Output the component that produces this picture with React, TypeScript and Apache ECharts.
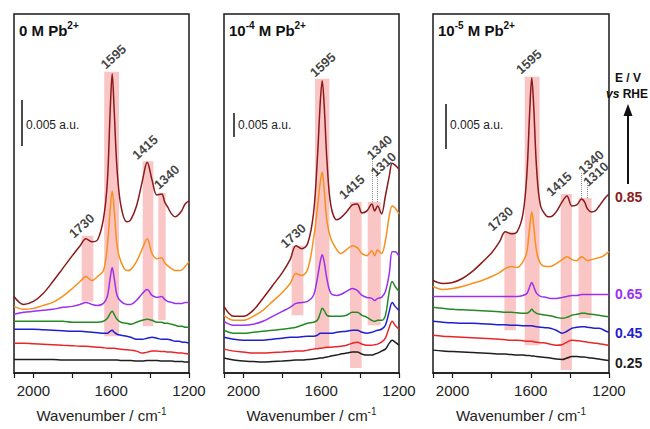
import React, { useEffect, useRef } from 'react';
import * as echarts from 'echarts';

const FONT = "'Liberation Sans', Arial, Helvetica, sans-serif";

// Wavenumber grid (cm^-1) shared by all spectra
const WAVENUMBERS = [2100, 2050, 2000, 1950, 1900, 1850, 1800, 1760, 1730, 1700, 1670, 1640, 1620, 1605, 1595, 1585, 1570, 1550, 1520, 1500, 1470, 1440, 1415, 1390, 1365, 1340, 1325, 1310, 1290, 1270, 1250, 1235, 1220, 1200];

const POTENTIALS = ['0.25', '0.35', '0.45', '0.55', '0.65', '0.75', '0.85'];
const COLORS = ['#1e1e1e', '#e8262a', '#1f1fd1', '#258a25', '#9b30f0', '#f7901e', '#8b1a1a'];

// Offset absorbance (arbitrary units, stacked) — 0 M Pb2+
const PB0_025 = [13.5, 13.5, 13.5, 13.5, 13.5, 13, 13, 13, 13, 13, 13, 13, 13, 13, 13, 13, 13, 12.5, 12.5, 12.5, 12, 12, 12.5, 12.5, 12.5, 12, 12, 12, 12, 11.5, 11.5, 11.5, 11, 11];
const PB0_035 = [30, 30, 29.5, 29, 28.5, 28, 27.5, 27, 27, 26.5, 26, 25.5, 25, 25, 25, 25, 24.5, 24, 23.5, 23, 22, 20, 21, 22, 22, 21.5, 21.5, 21, 21, 20.5, 20, 20, 19.5, 19];
const PB0_045 = [44, 44, 44, 43.5, 43, 42.5, 42, 42, 41.5, 41, 40.5, 40, 40, 42, 43, 41, 39, 38, 37, 36, 34, 34, 35, 36, 35, 34, 34, 34, 33, 32, 32, 31, 31, 30];
const PB0_055 = [52, 52, 52, 52, 52, 52, 51, 51, 51, 51, 51, 52, 55, 60, 62, 59, 54, 51, 50, 49, 51, 53, 54, 53, 51, 51, 50, 50, 49, 48, 47, 47, 46, 46];
const PB0_065 = [59, 61, 62, 63, 64, 66, 67, 69, 71, 69, 68, 70, 77, 96, 106, 96, 78, 72, 69, 69, 73, 80, 84, 78, 76, 77, 74, 72, 71, 70, 70, 70, 71, 71];
const PB0_075 = [67, 64, 65, 68, 71, 77, 85, 92, 97, 93, 97, 103, 128, 165, 183, 165, 128, 112, 103, 104, 112, 125, 135, 120, 115, 116, 111, 108, 105, 103, 103, 104, 107, 112];
const PB0_085 = [77, 69, 72, 80, 92, 105, 118, 128, 135, 132, 134, 155, 192, 265, 301, 265, 205, 168, 152, 154, 168, 193, 212, 194, 179, 180, 172, 167, 160, 157, 160, 164, 170, 173];

// 1e-4 M Pb2+
const PB4_025 = [15, 13, 12, 11.5, 11, 11.5, 12, 12.5, 13, 13, 13.5, 14, 14.5, 15, 15, 15.5, 16, 17, 18, 19, 20, 21, 21, 19, 18, 18, 19, 20, 22, 24, 30, 33, 31, 28];
const PB4_035 = [24, 22, 21, 20, 20, 20.5, 21, 21.5, 22, 22, 23, 24, 24.5, 25, 25, 25.5, 26, 26, 26.5, 27, 28, 30, 31, 29, 28, 28, 28.5, 29, 31, 35, 46, 52, 48, 44];
const PB4_045 = [36, 34, 33, 33, 33, 34, 35, 36, 36, 36.5, 37, 37, 38, 40, 40, 40, 40, 40, 41, 41.5, 42, 43, 43, 41, 40, 41, 42, 43, 44, 48, 62, 71, 67, 63];
const PB4_055 = [43, 40, 40, 41, 42, 43, 44, 45, 46, 48, 50, 51, 53, 60, 65, 63, 58, 57, 57, 57, 58, 61, 61, 58, 56, 53, 52, 53, 53, 58, 82, 92, 87, 82];
const PB4_065 = [52, 48, 48, 49, 52, 57, 62, 66, 70, 71, 72, 78, 95, 112, 119, 112, 94, 80, 78, 79, 82, 85, 83, 78, 76, 75, 73, 75, 76, 82, 100, 122, 122, 117];
const PB4_075 = [58, 53, 53, 57, 63, 72, 81, 90, 100, 98, 104, 134, 165, 192, 202, 185, 152, 135, 124, 120, 124, 128, 126, 120, 118, 123, 118, 124, 120, 133, 158, 168, 166, 160];
const PB4_085 = [67, 57, 57, 63, 75, 88, 101, 114, 128, 125, 130, 160, 215, 272, 294, 270, 212, 168, 154, 156, 162, 169, 170, 161, 163, 170, 163, 168, 160, 178, 198, 211, 209, 205];

// 1e-5 M Pb2+
const PB5_025 = [23, 22, 21.5, 21, 20.5, 20, 19.5, 19, 19, 18.5, 18, 18, 17.5, 17.5, 17, 17, 16.5, 16, 15.5, 15, 14, 13.5, 15, 16.5, 16.5, 16, 16, 15.5, 15, 14.5, 14, 13.5, 13, 12.5];
const PB5_035 = [38, 37, 36.5, 36, 35.5, 35, 34.5, 34, 33.5, 33, 33, 32.5, 32, 32, 32, 31.5, 31, 30.5, 30, 29, 28, 28.5, 31, 33, 32.5, 32, 31.5, 31, 30.5, 30, 29.5, 29, 28.5, 28];
const PB5_045 = [52, 51, 50.5, 50, 50, 49.5, 49, 48.5, 48.5, 48, 48, 47.5, 47.5, 47.5, 47.5, 47, 46.5, 46, 45.5, 45, 43, 40, 42, 45, 46, 46.5, 46.5, 46, 45.5, 45, 45, 44, 42.5, 41];
const PB5_055 = [66, 65, 64, 63.5, 63, 62.5, 62, 61.5, 61, 61, 60.5, 60, 60, 62, 64, 62, 60, 59, 58, 57.5, 56, 55, 56, 58, 59, 60, 60, 59.5, 59, 58.5, 58, 57.5, 57, 56.5];
const PB5_065 = [77, 77, 77, 77, 77, 77, 77, 77, 77, 77, 77, 78, 80, 87, 91, 87, 80, 77, 76, 75, 75, 76, 77, 78, 78, 79, 79, 79, 79, 79, 79, 79, 79, 79];
const PB5_075 = [87, 84, 85, 87, 90, 93, 97, 101, 105, 107, 106, 112, 122, 148, 162, 148, 122, 110, 107, 107, 110, 114, 117, 114, 113, 117, 115, 113, 114, 115, 116, 117, 119, 122];
const PB5_085 = [93, 90, 91, 95, 102, 111, 121, 132, 142, 140, 142, 160, 200, 265, 297, 268, 205, 168, 158, 157, 162, 172, 178, 168, 169, 175, 172, 165, 162, 163, 168, 172, 176, 180];

// Highlight bands: [from cm-1, to cm-1, low, high]
const BANDS_PB0 = [[1752, 1692, 72, 138], [1636, 1560, 37, 303], [1438, 1383, 47, 213], [1358, 1320, 53, 181]];
const BANDS_PB4 = [[1752, 1692, 58, 128], [1632, 1558, 25, 296], [1452, 1392, 5, 172], [1361, 1294, 48, 172]];
const BANDS_PB5 = [[1735, 1676, 43, 142], [1631, 1555, 28, 298], [1447, 1390, 3, 180], [1356, 1289, 55, 176]];

// Dotted guide lines: [cm-1, from, to]
const DOTS_PB4 = [[1340, 172, 215], [1310, 172, 206]];
const DOTS_PB5 = [[1340, 176, 202], [1310, 176, 194]];

// Peak annotations
const LABELS_PB0 = [{ t: '1595', w: 1589, v: 318 }, { t: '1415', w: 1426, v: 227 }, { t: '1340', w: 1315, v: 197 }, { t: '1730', w: 1752, v: 148 }];
const LABELS_PB4 = [{ t: '1595', w: 1592, v: 310 }, { t: '1340', w: 1301, v: 227 }, { t: '1310', w: 1280, v: 210 }, { t: '1415', w: 1443, v: 187 }, { t: '1730', w: 1744, v: 138 }];
const LABELS_PB5 = [{ t: '1595', w: 1610, v: 313 }, { t: '1415', w: 1456, v: 190 }, { t: '1340', w: 1292, v: 212 }, { t: '1310', w: 1267, v: 200 }, { t: '1730', w: 1756, v: 155 }];

const X_TICKS = [1200, 1600, 2000];

const PANELS = [
  { left: 14, width: 175, title: '{b|0 M Pb}{s|2+}', series: [PB0_025, PB0_035, PB0_045, PB0_055, PB0_065, PB0_075, PB0_085], bands: BANDS_PB0, dots: [] as number[][], labels: LABELS_PB0, bar: [22, 100, 146] },
  { left: 224, width: 175, title: '{b|10}{s|-4}{b| M Pb}{s|2+}', series: [PB4_025, PB4_035, PB4_045, PB4_055, PB4_065, PB4_075, PB4_085], bands: BANDS_PB4, dots: DOTS_PB4, labels: LABELS_PB4, bar: [234, 113, 137] },
  { left: 433, width: 176, title: '{b|10}{s|-5}{b| M Pb}{s|2+}', series: [PB5_025, PB5_035, PB5_045, PB5_055, PB5_065, PB5_075, PB5_085], bands: BANDS_PB5, dots: DOTS_PB5, labels: LABELS_PB5, bar: [446, 104, 149] },
];

export default function App() {
  const ref = useRef<HTMLDivElement>(null);
  useEffect(() => {
    if (!ref.current) return;
    const chart = echarts.init(ref.current, null, { renderer: 'svg' });
    const series: any[] = [];
    PANELS.forEach((p, i) => {
      series.push({
        type: 'line', xAxisIndex: i, yAxisIndex: i, data: [], z: 1, silent: true,
        markArea: {
          silent: true,
          itemStyle: { color: 'rgba(245,150,150,0.55)' },
          data: p.bands.map((b) => [{ xAxis: b[0], yAxis: b[2] }, { xAxis: b[1], yAxis: b[3] }]),
        },
        markLine: {
          silent: true, symbol: ['none', 'none'], label: { show: false },
          lineStyle: { type: 'dotted', color: '#8a8a8a', width: 1 },
          data: p.dots.map((d) => [{ coord: [d[0], d[1]] }, { coord: [d[0], d[2]] }]),
        },
      });
      p.series.forEach((vals, k) => {
        series.push({
          type: 'line', name: POTENTIALS[k] + ' V', xAxisIndex: i, yAxisIndex: i, z: 2,
          data: WAVENUMBERS.map((w, j) => [w, vals[j]]),
          showSymbol: false, smooth: 0.35,
          lineStyle: { color: COLORS[k], width: 1.5 },
        });
      });
      series.push({
        type: 'scatter', xAxisIndex: i, yAxisIndex: i, z: 5, symbolSize: 0, silent: true,
        data: p.labels.map((l) => ({ value: [l.w, l.v], name: l.t })),
        label: { show: true, position: 'inside', rotate: 42, formatter: '{b}', fontSize: 13, fontWeight: 'bold', color: '#111', fontFamily: FONT },
      });
    });

    const graphic: any[] = [];
    PANELS.forEach((p) => {
      graphic.push({
        type: 'text', x: p.left + 5, y: 29,
        style: {
          text: p.title, textAlign: 'left', align: 'left', textVerticalAlign: 'middle', verticalAlign: 'middle',
          rich: {
            b: { fontSize: 15, fontWeight: 'bold', fontFamily: FONT, fill: '#111', color: '#111', lineHeight: 18, verticalAlign: 'bottom' },
            s: { fontSize: 10, fontWeight: 'bold', fontFamily: FONT, fill: '#111', color: '#111', lineHeight: 10, verticalAlign: 'top' },
          },
        },
      });
      graphic.push({ type: 'line', shape: { x1: p.bar[0], y1: p.bar[1], x2: p.bar[0], y2: p.bar[2] }, style: { stroke: '#111', lineWidth: 1.5 } });
      graphic.push({
        type: 'text', x: p.bar[0] + 4, y: 125,
        style: { text: '0.005 a.u.', font: `12px ${FONT}`, fill: '#222', textAlign: 'left', align: 'left', textVerticalAlign: 'middle', verticalAlign: 'middle' },
      });
    });
    const rightLabels = [
      { t: '0.85', y: 197, c: '#8b1a1a' },
      { t: '0.65', y: 294, c: '#9b30f0' },
      { t: '0.45', y: 333, c: '#1f1fd1' },
      { t: '0.25', y: 363, c: '#1e1e1e' },
    ];
    rightLabels.forEach((r) => {
      graphic.push({
        type: 'text', x: 615, y: r.y,
        style: { text: r.t, font: `bold 14px ${FONT}`, fill: r.c, textAlign: 'left', align: 'left', textVerticalAlign: 'middle', verticalAlign: 'middle' },
      });
    });
    graphic.push({
      type: 'text', x: 628, y: 78,
      style: { text: 'E / V', font: `bold 12px ${FONT}`, fill: '#111', textAlign: 'center', align: 'center', textVerticalAlign: 'middle', verticalAlign: 'middle' },
    });
    graphic.push({
      type: 'text', x: 606, y: 94,
      style: {
        text: '{i|vs} RHE', font: `bold 12px ${FONT}`, fill: '#111', textAlign: 'left', align: 'left', textVerticalAlign: 'middle', verticalAlign: 'middle',
        rich: { i: { fontStyle: 'italic', fontWeight: 'bold', fontSize: 12, fontFamily: FONT, fill: '#111', color: '#111' } },
      },
    });
    graphic.push({ type: 'line', shape: { x1: 628, y1: 184, x2: 628, y2: 113 }, style: { stroke: '#111', lineWidth: 2 } });
    graphic.push({ type: 'polygon', shape: { points: [[623.5, 116], [632.5, 116], [628, 104]] }, style: { fill: '#111' } });

    chart.setOption({
      animation: false,
      backgroundColor: '#ffffff',
      grid: PANELS.map((p) => ({ left: p.left, top: 14, width: p.width, height: 361, show: true, borderColor: '#1a1a1a', borderWidth: 1.5, backgroundColor: 'transparent' })),
      xAxis: PANELS.map((p, i) => ({
        type: 'value', gridIndex: i, min: 1200, max: 2100, interval: 200, inverse: true,
        axisLine: { show: true, lineStyle: { color: '#1a1a1a', width: 1.5 } },
        axisTick: { show: true, length: 5, lineStyle: { color: '#1a1a1a', width: 1.2 } },
        splitLine: { show: false },
        axisLabel: {
          fontSize: 15, color: '#222', fontFamily: FONT, margin: 10,
          formatter: (v: number) => (X_TICKS.indexOf(v) >= 0 ? String(v) : ''),
        },
        name: 'Wavenumber / cm{s|-1}', nameLocation: 'middle', nameGap: 33,
        nameTextStyle: {
          fontSize: 15, color: '#222', fontFamily: FONT, lineHeight: 18,
          rich: { s: { fontSize: 10, color: '#222', fontFamily: FONT, lineHeight: 10, verticalAlign: 'top' } },
        },
      })),
      yAxis: PANELS.map((p, i) => ({ type: 'value', gridIndex: i, min: 0, max: 361, show: false })),
      series,
      graphic,
    });
    return () => chart.dispose();
  }, []);
  return <div ref={ref} style={{ position: 'absolute', left: 0, top: 0, width: 650, height: 429 }} />;
}
